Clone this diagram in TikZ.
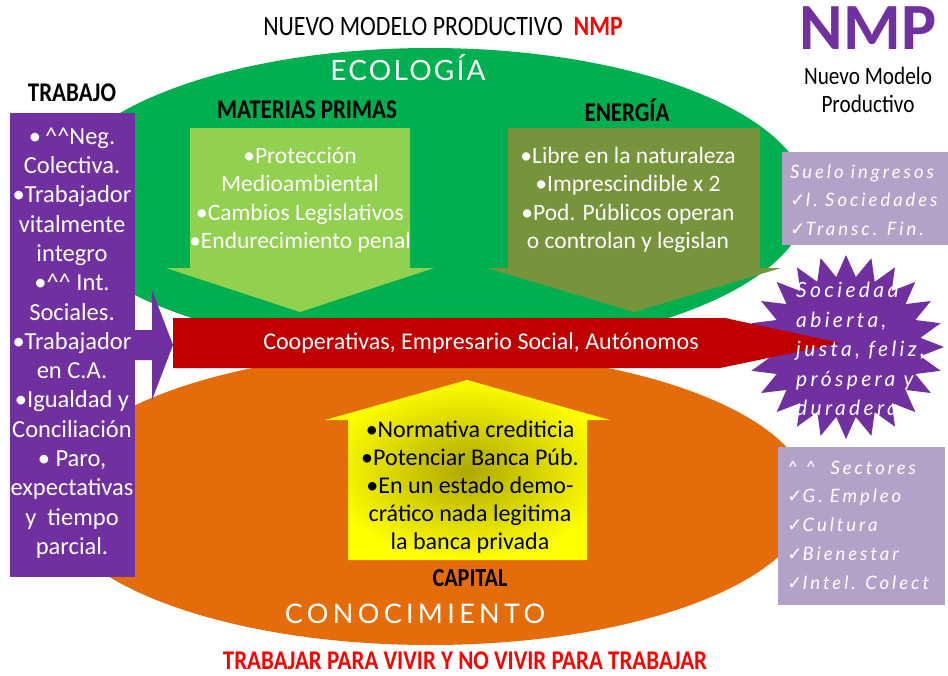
\documentclass[tikz,border=0pt]{standalone}
\usepackage{fontspec}
\setmainfont{Carlito}
\newfontfamily\cond[FakeStretch=0.85]{Carlito}
\newfontfamily\hand[LetterSpace=8]{Lato}
\newfontfamily\handw[LetterSpace=16]{Lato}
\newfontfamily\dejavu{DejaVu Sans}
\newcommand\chk{{\dejavu ✓}}
\newcommand\caret{\textasciicircum}
\definecolor{ecogreen}{HTML}{00B050}
\definecolor{lgreen}{HTML}{92D050}
\definecolor{olivec}{HTML}{77933C}
\definecolor{redc}{HTML}{C00000}
\definecolor{orangec}{HTML}{E46C0A}
\definecolor{purp}{HTML}{7030A0}
\definecolor{lav}{HTML}{B3A2C7}
\definecolor{titred}{HTML}{FF0000}
\definecolor{ycenter}{RGB}{175,168,0}
\begin{document}
\begin{tikzpicture}[x=1pt,y=-1pt,
  hd/.style={font=\cond\bfseries\fontsize{27}{30}\selectfont, text=black, inner sep=0pt},
  btxt/.style={align=center, text=white, inner sep=0pt},
  hw/.style={text=white, align=left, inner sep=0pt, anchor=west},
]
\useasboundingbox (0,0) rectangle (948,675);
\fill[white] (0,0) rectangle (948,675);

% big ellipses
\fill[ecogreen] (430,200) ellipse [x radius=378, y radius=152];
\fill[orangec] (430,498) ellipse [x radius=380, y radius=147];

% down arrows
\fill[lgreen] (190,128) -- (410,128) -- (410,268) -- (434,268) -- (300,312) -- (166,268) -- (190,268) -- cycle;
\fill[olivec] (508,128) -- (760,128) -- (760,268) -- (781,268) -- (634,312) -- (487,268) -- (508,268) -- cycle;

% up arrow (capital)
\shade[inner color=ycenter, outer color=yellow] (348,560) -- (348,420) -- (325,420) -- (467,380) -- (610,420) -- (587,420) -- (587,560) -- cycle;

% trabajo box and arrow
\fill[purp] (10,113) rectangle (135,577);
\fill[purp] (135,330) -- (152,330) -- (152,290) -- (173,345) -- (152,400) -- (152,360) -- (135,360) -- cycle;

% lavender boxes
\fill[lav] (782,152) rectangle (948,245);
\fill[lav] (778,447) rectangle (945,605);

% star
\fill[purp, shift={(846,347)}] (98,0)
  \foreach \i [evaluate=\i as \rx using {mod(\i,2)==0 ? 98 : 75}, evaluate=\i as \ry using {mod(\i,2)==0 ? 92 : 70.5}] in {1,...,47} { -- ({\rx*cos(\i*7.5)},{\ry*sin(\i*7.5)}) } -- cycle;

% red arrow
\fill[redc] (173,318) -- (725,318) -- (840,343) -- (720,368) -- (173,368) -- cycle;

% texts
\node[font=\cond\fontsize{28}{30}\selectfont, inner sep=0pt] (title) at (443,27) {NUEVO MODELO PRODUCTIVO\ \ {\bfseries\color{titred}NMP}};
\node[font=\bfseries\fontsize{66}{66}\selectfont, text=purp, inner sep=0pt] (nmp) at (868,28) {NMP};
\node[font=\cond\fontsize{25}{28}\selectfont, align=center, inner sep=0pt] (nmpsub) at (868,90) {Nuevo Modelo\\Productivo};

\node[font=\hand\fontsize{28}{30}\selectfont, text=white, inner sep=0pt] (eco) at (408,68) {ECOLOGÍA};
\node[font=\handw\fontsize{27}{30}\selectfont, text=white, inner sep=0pt] (cono) at (415,614) {CONOCIMIENTO};

\node[hd] (trab) at (72,93) {TRABAJO};
\node[hd] (mp) at (307,110) {MATERIAS PRIMAS};
\node[hd] (en) at (627,110) {ENERGÍA};
\node[hd, font=\cond\bfseries\fontsize{26}{30}\selectfont] (cap) at (470,578) {CAPITAL};
\node[hd, text=titred] (lema) at (465,661) {TRABAJAR PARA VIVIR Y NO VIVIR PARA TRABAJAR};

\node[btxt, font=\fontsize{24.5}{29.3}\selectfont] (trabtxt) at (72,343) {•\,\caret\caret Neg.\\Colectiva.\\•Trabajador\\vitalmente\\integro\\•\caret\caret{} Int.\\Sociales.\\•Trabajador\\en C.A.\\•Igualdad y\\Conciliación\\• Paro,\\expectativas\\y\ \ tiempo\\parcial.};

\node[btxt, font=\fontsize{23.5}{28.5}\selectfont] (mptxt) at (300,200) {•Protección\\Medioambiental\\•Cambios Legislativos\\•Endurecimiento penal};
\node[btxt, font=\fontsize{23.5}{28.5}\selectfont] (entxt) at (628,200) {•Libre en la naturaleza\\•Imprescindible x 2\\•Pod. Públicos operan\\o controlan\ y legislan};
\node[btxt, text=black, font=\fontsize{24}{28}\selectfont] (captxt) at (470,487) {•Normativa crediticia\\•Potenciar Banca Púb.\\•En un estado demo-\\crático nada legitima\\la banca privada};
\node[btxt, font=\fontsize{24}{28}\selectfont] (coop) at (481,343) {Cooperativas, Empresario Social, Autónomos};

\node[hw, font=\handw\itshape\fontsize{21}{29.5}\selectfont] (startxt) at (796,349) {Sociedad\\abierta,\\justa, feliz,\\próspera y\\duradera};
\node[hw, font=\handw\itshape\fontsize{18.5}{28.5}\selectfont] (ingtxt) at (790,200) {Suelo ingresos\\\chk I. Sociedades\\\chk Transc. Fin.};
\node[hw, font=\handw\itshape\fontsize{18.5}{28.7}\selectfont] (sectxt) at (787,525) {\caret\ \caret\ \ Sectores\\\chk G. Empleo\\\chk Cultura\\\chk Bienestar\\\chk Intel. Colect};
\end{tikzpicture}
\end{document}
